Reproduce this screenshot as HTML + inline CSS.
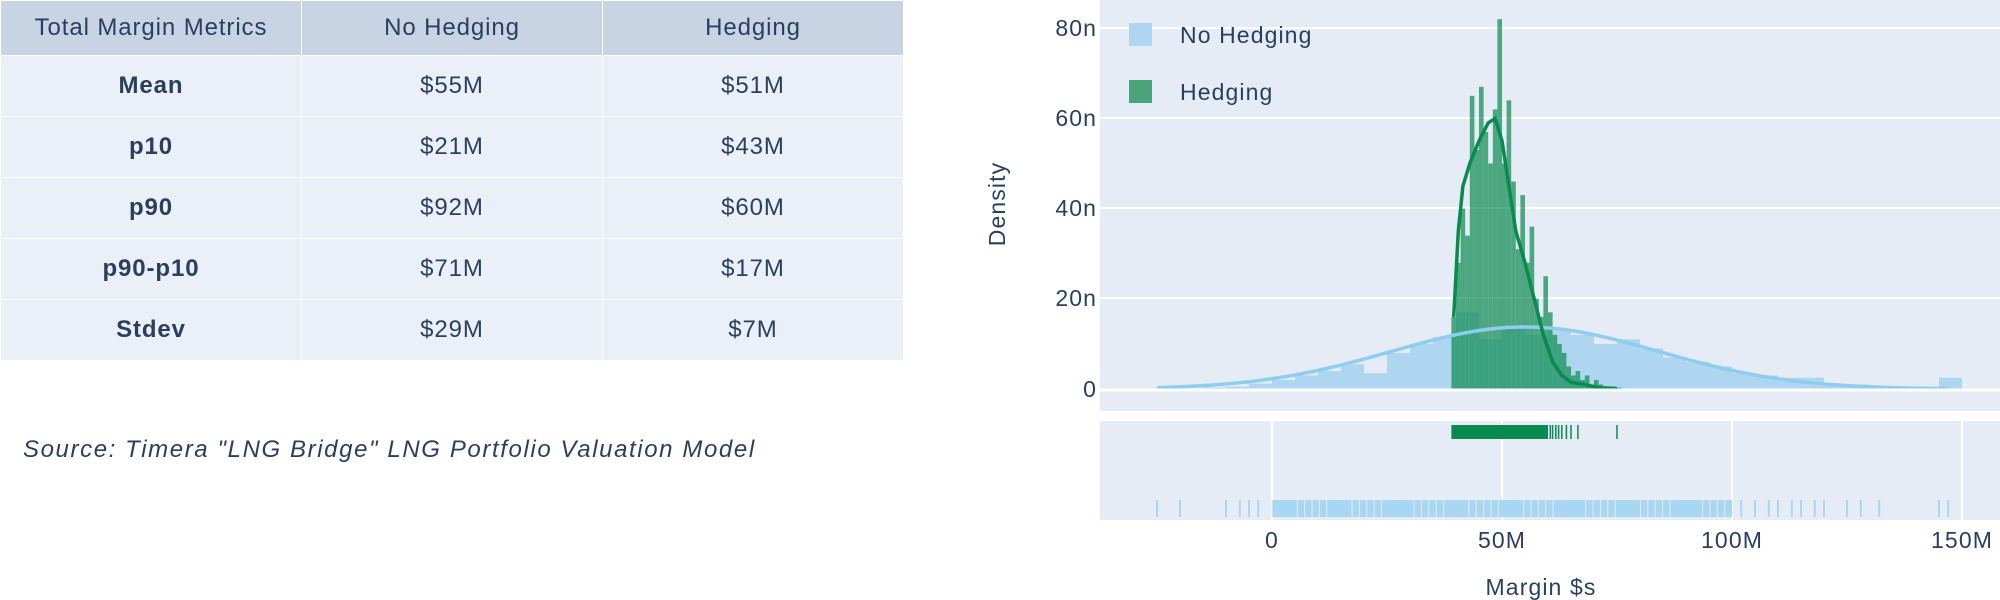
<!DOCTYPE html>
<html><head><meta charset="utf-8"><style>
body{margin:0;width:2000px;height:600px;background:#fff;font-family:"Liberation Sans",sans-serif;overflow:hidden;position:relative}
table{position:absolute;left:0;top:0;border-collapse:collapse;width:900px;table-layout:fixed;font-size:24px;letter-spacing:0.9px;color:#2a3f5f}
td,th{border:1.5px solid #fff;text-align:center;font-weight:normal;padding:0;width:300px}
th{background:#c8d4e3;height:54px}
td{background:#ebf0f8;height:60px}
td.b{font-weight:bold}
.src{position:absolute;left:23px;top:436px;font-style:italic;font-size:24px;letter-spacing:1.6px;color:#2a3f5f}
svg text{letter-spacing:1.1px}
</style></head><body>
<table>
<tr><th>Total Margin Metrics</th><th>No Hedging</th><th>Hedging</th></tr>
<tr><td class="b">Mean</td><td>$55M</td><td>$51M</td></tr>
<tr><td class="b">p10</td><td>$21M</td><td>$43M</td></tr>
<tr><td class="b">p90</td><td>$92M</td><td>$60M</td></tr>
<tr><td class="b">p90-p10</td><td>$71M</td><td>$17M</td></tr>
<tr><td class="b">Stdev</td><td>$29M</td><td>$7M</td></tr>
</table>
<div class="src">Source: Timera "LNG Bridge" LNG Portfolio Valuation Model</div>
<svg id="s" width="2000" height="600" style="position:absolute;left:0;top:0" font-family="Liberation Sans, sans-serif" fill="#2a3f5f">
<rect x="1100" y="0" width="900" height="411" fill="#e5ecf6"/>
<rect x="1100" y="421" width="900" height="99" fill="#e5ecf6"/>
<g stroke="#fff" stroke-width="2">
<line x1="1100" x2="2000" y1="28" y2="28"/><line x1="1100" x2="2000" y1="118" y2="118"/>
<line x1="1100" x2="2000" y1="208" y2="208"/><line x1="1100" x2="2000" y1="298" y2="298"/>
<line x1="1272" x2="1272" y1="421" y2="520"/><line x1="1502" x2="1502" y1="421" y2="520"/>
<line x1="1732" x2="1732" y1="421" y2="520"/><line x1="1962" x2="1962" y1="421" y2="520"/>
</g>
<g id="hist"></g>
<line x1="1100" x2="2000" y1="390" y2="390" stroke="#fff" stroke-width="3"/>
<g font-size="23" text-anchor="end">
<text x="1097" y="36">80n</text><text x="1097" y="126">60n</text><text x="1097" y="216">40n</text><text x="1097" y="306">20n</text><text x="1097" y="397">0</text>
</g>
<g font-size="23" text-anchor="middle">
<text x="1272" y="548">0</text><text x="1502" y="548">50M</text><text x="1732" y="548">100M</text><text x="1962" y="548">150M</text>
<text x="1541" y="595">Margin $s</text>
<text transform="translate(1005,204) rotate(-90)">Density</text>
</g>
<rect x="1129" y="23" width="23" height="23" fill="#aed6f1"/>
<rect x="1129" y="80" width="23" height="23" fill="#4aa37a"/>
<text x="1180" y="43" font-size="23">No Hedging</text>
<text x="1180" y="100" font-size="23">Hedging</text>
</svg>
<script>
var X=v=>1272+4.6*v, Y=n=>389-4.51*n, g=document.getElementById('hist'), h='';
var b=[0.4,0,0.3,0.5,1.2,2,3,4,5.5,3.5,8,10,11.5,17,11,14,12,13,12,10,11,9,7,6,5,3.5,3,2.5,2.5,1,1,0.5,0,0,2.5];
b.forEach((n,i)=>{var v=-25+5*i;h+=`<rect x="${X(v)}" y="${Y(n)}" width="23" height="${4.51*n}" fill="#aed6f1"/>`});
var gb=[16,28,40,34,65,53,67,57,50,62,82,50,64,46,31,43,28,36,20,16,25,17,12,10,8,5,3,4,2,3,1,2,1,.5,.5,.3,.3];
gb.forEach((n,i)=>{var v=39+i;h+=`<rect x="${X(v)}" y="${Y(n)}" width="4.6" height="${4.51*n}" fill="#0b8a4f" fill-opacity="0.7"/>`});
var p='';for(var v=-25;v<=148;v+=2){var n=13.76*Math.exp(-(v-55)*(v-55)/1682);p+=X(v)+','+Y(n)+' ';}
h+=`<polyline points="${p}" fill="none" stroke="#8ecdf0" stroke-width="3.5"/>`;
var gk=[[39.5,16],[40.5,35],[41.5,45],[43,50],[45,55],[47,59],[48.5,60],[50,55],[51.5,45],[53,35],[55,28],[57,20],[59,12],[61,6],[63,3],[65,1.5],[68,1],[71,0.3],[75,0.1]];
h+=`<polyline points="${gk.map(a=>X(a[0])+','+Y(a[1])).join(' ')}" fill="none" stroke="#0b8a4f" stroke-width="3.5"/>`;
h+=`<rect x="${X(39)}" y="425" width="${4.6*21}" height="14" fill="#0b8a4f"/>`;
[60.5,61,61.7,62.3,63,64,65,66.5,75].forEach(v=>h+=`<line x1="${X(v)}" x2="${X(v)}" y1="425" y2="439" stroke="#0b8a4f" stroke-width="1.5"/>`);
h+=`<rect x="${X(0)}" y="500" width="${4.6*100}" height="17" fill="#a9d6f2"/>`;
for(var i=0;i<40;i++){var v=(i*37.3)%100;h+=`<line x1="${X(v)}" x2="${X(v)}" y1="500" y2="517" stroke="#e5ecf6" stroke-width="1"/>`}
[-25,-20,-10,-7,-5,-3,102,105,108,110,113,115,118,120,125,128,132,145,147].forEach(v=>h+=`<line x1="${X(v)}" x2="${X(v)}" y1="500" y2="517" stroke="#a9d6f2" stroke-width="2"/>`);
g.innerHTML=h;
</script>
</body></html>
